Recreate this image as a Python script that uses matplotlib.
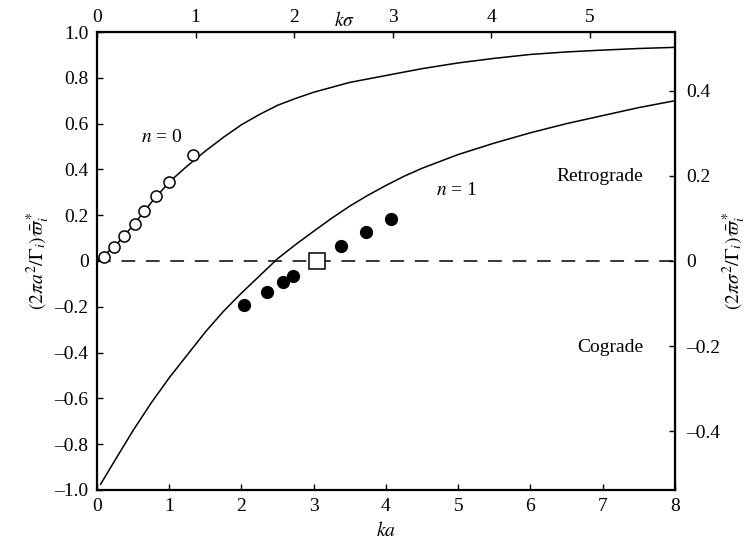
import matplotlib
matplotlib.use("Agg")
import matplotlib.pyplot as plt

plt.rcParams["font.family"] = ["Liberation Serif", "DejaVu Serif"]
plt.rcParams["mathtext.fontset"] = "stix"
plt.rcParams["font.size"] = 14

# n = 0 curve
ka_n0 = [0.0, 0.25, 0.5, 0.75, 1.0, 1.25, 1.5, 1.75, 2.0, 2.25, 2.5, 2.75,
         3.0, 3.5, 4.0, 4.5, 5.0, 5.5, 6.0, 6.5, 7.0, 7.5, 8.0]
w_n0 = [0.0, 0.065, 0.155, 0.255, 0.345, 0.415, 0.48, 0.54, 0.595, 0.64,
        0.68, 0.71, 0.737, 0.78, 0.81, 0.84, 0.865, 0.885, 0.902, 0.913,
        0.921, 0.928, 0.933]

# n = 1 curve
ka_n1 = [0.05, 0.25, 0.5, 0.75, 1.0, 1.25, 1.5, 1.75, 2.0, 2.25, 2.5, 2.75,
         3.0, 3.25, 3.5, 3.75, 4.0, 4.25, 4.5, 5.0, 5.5, 6.0, 6.5, 7.0, 7.5, 8.0]
w_n1 = [-0.975, -0.87, -0.74, -0.62, -0.51, -0.41, -0.31, -0.22, -0.14,
        -0.065, 0.01, 0.072, 0.13, 0.187, 0.24, 0.287, 0.33, 0.37, 0.405,
        0.465, 0.515, 0.56, 0.60, 0.635, 0.67, 0.70]

# open circles (n = 0 data)
ka_open = [0.10, 0.24, 0.38, 0.52, 0.65, 0.82, 1.00, 1.33]
w_open = [0.019, 0.061, 0.108, 0.162, 0.220, 0.283, 0.344, 0.464]

# filled circles (n = 1 data)
ka_fill = [2.03, 2.36, 2.57, 2.71, 3.38, 3.73, 4.07]
w_fill = [-0.193, -0.134, -0.093, -0.066, 0.066, 0.127, 0.184]

# open square
ka_sq = [3.05]
w_sq = [0.0]

y_ticks = [-1.0, -0.8, -0.6, -0.4, -0.2, 0.0, 0.2, 0.4, 0.6, 0.8, 1.0]
y_labels = ["\u20131.0", "\u20130.8", "\u20130.6", "\u20130.4", "\u20130.2", "0",
            "0.2", "0.4", "0.6", "0.8", "1.0"]
x_ticks = [0, 1, 2, 3, 4, 5, 6, 7, 8]
top_ticks = [0, 1, 2, 3, 4, 5]
right_ticks = [-0.4, -0.2, 0.0, 0.2, 0.4]
right_labels = ["\u20130.4", "\u20130.2", "0", "0.2", "0.4"]

ratio = 0.733          # sigma / a
ratio2 = ratio ** 2

fig = plt.figure(figsize=(7.54, 5.49), dpi=100)
ax = fig.add_axes([0.1286, 0.1075, 0.7666, 0.8342])

ax.plot(ka_n0, w_n0, color="black", lw=1.1)
ax.plot(ka_n1, w_n1, color="black", lw=1.1)
ax.plot([0, 8], [0, 0], color="black", lw=1.1, dashes=(9, 7))
ax.plot(ka_open, w_open, "o", ms=8, mfc="white", mec="black", mew=1.1)
ax.plot(ka_fill, w_fill, "o", ms=8.5, color="black")
ax.plot(ka_sq, w_sq, "s", ms=11.5, mfc="white", mec="black", mew=1.1)

ax.set_xlim(0, 8)
ax.set_ylim(-1.0, 1.0)
ax.set_xticks(x_ticks)
ax.set_yticks(y_ticks)
ax.set_yticklabels(y_labels)
ax.tick_params(direction="in", length=4, width=1, pad=6)

for s in ax.spines.values():
    s.set_linewidth(1.6)

ax.set_xlabel("$ka$", labelpad=4)
ax.set_ylabel(r"$(2\pi a^2/\mathit{\Gamma}_i)\bar{\varpi}_i^*$", labelpad=2)

top = ax.secondary_xaxis("top", functions=(lambda x: x * ratio, lambda x: x / ratio))
top.set_xticks(top_ticks)
top.tick_params(direction="in", length=4, width=1, pad=4)

right = ax.secondary_yaxis("right", functions=(lambda y: y * ratio2, lambda y: y / ratio2))
right.set_yticks(right_ticks)
right.set_yticklabels(right_labels)
right.tick_params(direction="in", length=4, width=1, pad=8)
right.set_ylabel(r"$(2\pi \sigma^2/\mathit{\Gamma}_i)\bar{\varpi}_i^*$", labelpad=0)

ax.text(3.43, 1.01, r"$k\sigma$", ha="center", va="bottom")
ax.text(0.9, 0.54, "$n$ = 0", ha="center", va="center")
ax.text(4.98, 0.31, "$n$ = 1", ha="center", va="center")
ax.text(7.56, 0.37, "Retrograde", ha="right", va="center")
ax.text(7.56, -0.376, "Cograde", ha="right", va="center")

fig.savefig("out.png", dpi=100)
